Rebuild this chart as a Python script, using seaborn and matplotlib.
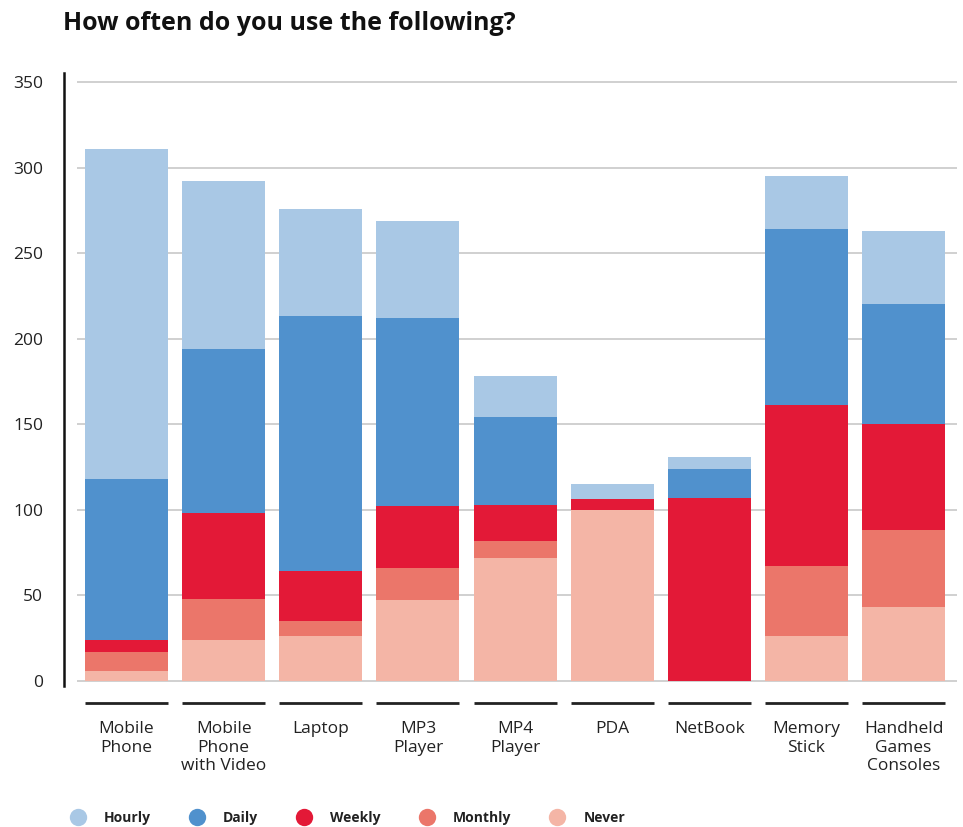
import matplotlib
matplotlib.use("Agg")
import matplotlib.pyplot as plt
from matplotlib.lines import Line2D
import matplotlib.transforms as mtransforms
import numpy as np
import pandas as pd
import seaborn as sns

categories = ["Mobile\nPhone", "Mobile\nPhone\nwith Video", "Laptop", "MP3\nPlayer",
              "MP4\nPlayer", "PDA", "NetBook", "Memory\nStick", "Handheld\nGames\nConsoles"]
series_names = ["Hourly", "Daily", "Weekly", "Monthly", "Never"]
hourly = [193, 98, 63, 57, 24, 9, 7, 31, 43]
daily = [94, 96, 149, 110, 51, 0, 17, 103, 70]
weekly = [7, 50, 29, 36, 21, 6, 107, 94, 62]
monthly = [11, 24, 9, 19, 10, 0, 0, 41, 45]
never = [6, 24, 26, 47, 72, 100, 0, 26, 43]
colors = ["#A9C8E5", "#5091CD", "#E31937", "#EB766A", "#F4B5A6"]
yticks = [0, 50, 100, 150, 200, 250, 300, 350]

sns.set_style("white")
plt.rcParams['font.family'] = ['Open Sans', 'DejaVu Sans']

df = pd.DataFrame({"category": categories, "Hourly": hourly, "Daily": daily,
                   "Weekly": weekly, "Monthly": monthly, "Never": never})
# cumulative stacks, bottom-up order: Never, Monthly, Weekly, Daily, Hourly
stack_order = series_names[::-1]
cum = df[stack_order].cumsum(axis=1)

W, H = 963, 827
fig = plt.figure(figsize=(W / 100, H / 100), dpi=100)
ax = fig.add_axes([77 / W, (H - 689) / H, 880 / W, 616 / H])

bar_w = 0.855
for name, col in zip(series_names, colors):
    sns.barplot(x=df["category"], y=cum[name], color=col, saturation=1, width=bar_w,
                errorbar=None, linewidth=0, ax=ax, zorder=3, order=categories)

ax.set_xlim(-0.51, len(categories) - 1 + 0.55)
ax.set_ylim(-4.8, 355.3)
ax.set_yticks(yticks)
ax.set_yticklabels([str(t) for t in yticks])
ax.set_xlabel("")
ax.set_ylabel("")

ax.yaxis.grid(True, color="#d0d0d0", linewidth=1.4, zorder=0)
ax.xaxis.grid(False)
ax.set_axisbelow(True)
ax.get_ygridlines()[0].set_visible(False)

for s in ["top", "right", "bottom"]:
    ax.spines[s].set_visible(False)
ax.spines["left"].set_position(("outward", 9.4))
ax.spines["left"].set_bounds(-2.9, 355.3)
ax.spines["left"].set_color("#111111")
ax.spines["left"].set_linewidth(1.8)

ax.tick_params(axis="y", length=0, pad=15, labelsize=12.5, labelcolor="#222222")
ax.tick_params(axis="x", length=0, pad=23, labelsize=12.5, labelcolor="#222222")
for lbl in ax.get_xticklabels():
    lbl.set_linespacing(1.22)
    lbl.set_verticalalignment("top")

# short rule under each category
trans = mtransforms.blended_transform_factory(ax.transData, ax.transAxes)
for i in range(len(categories)):
    ax.plot([i - bar_w / 2, i + bar_w / 2], [-0.023, -0.023], transform=trans,
            color="#222222", linewidth=2, clip_on=False, solid_capstyle="butt")

fig.text(63 / W, 1 - 23 / H, "How often do you use the following?", ha="left", va="center",
         fontsize=18, fontweight="bold", color="#111111")

handles = [Line2D([0], [0], marker="o", linestyle="none", markersize=12.5,
                  markerfacecolor=c, markeredgewidth=0) for c in colors]
fig.legend(handles, series_names, loc="center left", bbox_to_anchor=(69.7 / W, 9 / H),
           ncol=5, frameon=False, borderpad=0, borderaxespad=0, handlelength=1.2,
           handletextpad=1.27, columnspacing=2.72,
           prop={"size": 10, "weight": "bold"}, labelcolor="#222222")

fig.savefig("out.png", dpi=100)
